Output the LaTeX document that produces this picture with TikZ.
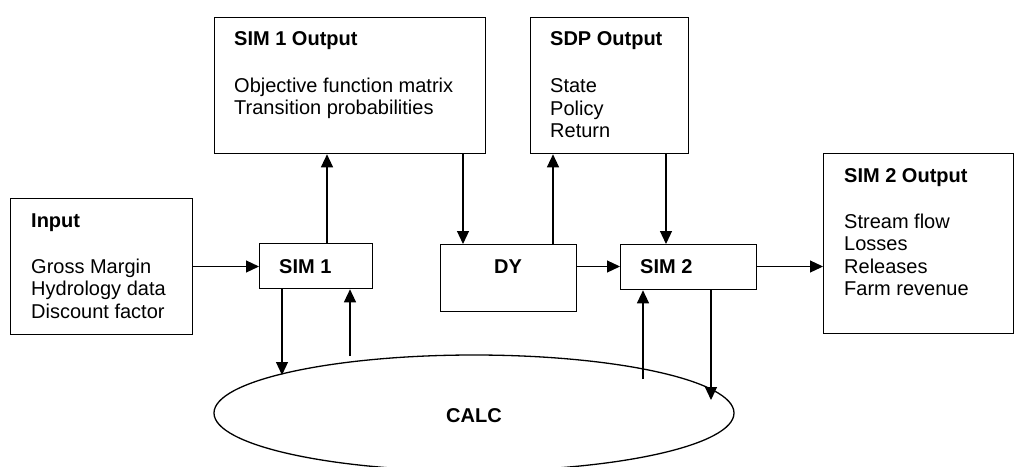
\documentclass[tikz,border=0pt]{standalone}
\usepackage{fontspec}
\setmainfont{Liberation Sans}
\usetikzlibrary{arrows.meta,shapes.geometric}
\tikzset{
  box/.style={draw, line width=1.3pt, rectangle, inner sep=0pt, anchor=north west},
  txt/.style={anchor=base west, inner sep=0pt, font=\fontsize{20}{24}\selectfont},
  ttl/.style={txt, font=\fontsize{20}{24}\selectfont\bfseries},
  arr/.style={line width=1.2pt, -{Triangle[length=13pt,width=12pt]}},
  ln/.style={line width=1.2pt}
}
\begin{document}
\begin{tikzpicture}[x=1pt,y=-1pt]
\useasboundingbox (0,0) rectangle (1014,466);
\begin{scope}
\clip (0,0) rectangle (1014,466);
% boxes
\node[box, minimum width=182pt, minimum height=136pt] (in) at (10,198) {};
\node[box, minimum width=271pt, minimum height=136pt] (o1) at (214,17) {};
\node[box, minimum width=158pt, minimum height=136pt] (sdp) at (530,17) {};
\node[box, minimum width=190pt, minimum height=180pt] (o2) at (823,153) {};
\node[box, minimum width=113pt, minimum height=45pt] (sim1) at (259,243) {};
\node[box, minimum width=136pt, minimum height=67pt] (dy) at (440,244) {};
\node[box, minimum width=136pt, minimum height=45pt] (sim2) at (620,244) {};
\node[draw, ellipse, line width=1.3pt, minimum width=520pt, minimum height=116pt, inner sep=0pt,
      font=\fontsize{20}{24}\selectfont\bfseries] (calc) at (474,413) {};
\node[ttl, anchor=base] (calcT) at (474,422) {CALC};

% texts
\node[ttl] (inT) at (31,227) {Input};
\node[txt] (in1) at (31,273) {Gross Margin};
\node[txt] (in2) at (31,295.5) {Hydrology data};
\node[txt] (in3) at (31,318) {Discount factor};

\node[ttl] (o1T) at (234,45) {SIM 1 Output};
\node[txt] (o1a) at (234,92) {Objective function matrix};
\node[txt] (o1b) at (234,114.5) {Transition probabilities};

\node[ttl] (sdpT) at (550,45) {SDP Output};
\node[txt] (sdp1) at (550,92.5) {State};
\node[txt] (sdp2) at (550,115) {Policy};
\node[txt] (sdp3) at (550,137.5) {Return};

\node[ttl] (o2T) at (844,182) {SIM 2 Output};
\node[txt] (o2a) at (844,228) {Stream flow};
\node[txt] (o2b) at (844,250.5) {Losses};
\node[txt] (o2c) at (844,273) {Releases};
\node[txt] (o2d) at (844,295.5) {Farm revenue};

\node[ttl] (sim1T) at (279,273) {SIM 1};
\node[ttl, anchor=base] (dyT) at (508,273) {DY};
\node[ttl] (sim2T) at (640,273) {SIM 2};

% free ends
\coordinate (c1) at (282,375);
\coordinate (c2) at (350,356);
\coordinate (c3) at (643,379);
\coordinate (c4) at (711,400);
\coordinate (x327) at (327,0);
\coordinate (x463) at (463,0);
\coordinate (x553) at (553,0);
\coordinate (x666) at (666,0);
\coordinate (x282) at (282,0);
\coordinate (x711) at (711,0);
\coordinate (y266) at (0,266.5);

% connectors
\draw[arr] (in.east |- y266) -- (sim1.west |- y266);
\draw[arr] (sim1.north -| x327) -- (o1.south -| x327);
\draw[arr] (o1.south -| x463) -- (dy.north -| x463);
\draw[arr] (dy.north -| x553) -- (sdp.south -| x553);
\draw[arr] (sdp.south -| x666) -- (sim2.north -| x666);
\draw[arr] (dy.east |- y266) -- (sim2.west |- y266);
\draw[arr] (sim2.east |- y266) -- (o2.west |- y266);
\draw[arr] (sim1.south -| x282) -- (c1);
\draw[arr] (c2) -- (sim1.south -| c2);
\draw[arr] (c3) -- (sim2.south -| c3);
\draw[arr] (sim2.south -| x711) -- (c4);
\end{scope}
\end{tikzpicture}
\end{document}
